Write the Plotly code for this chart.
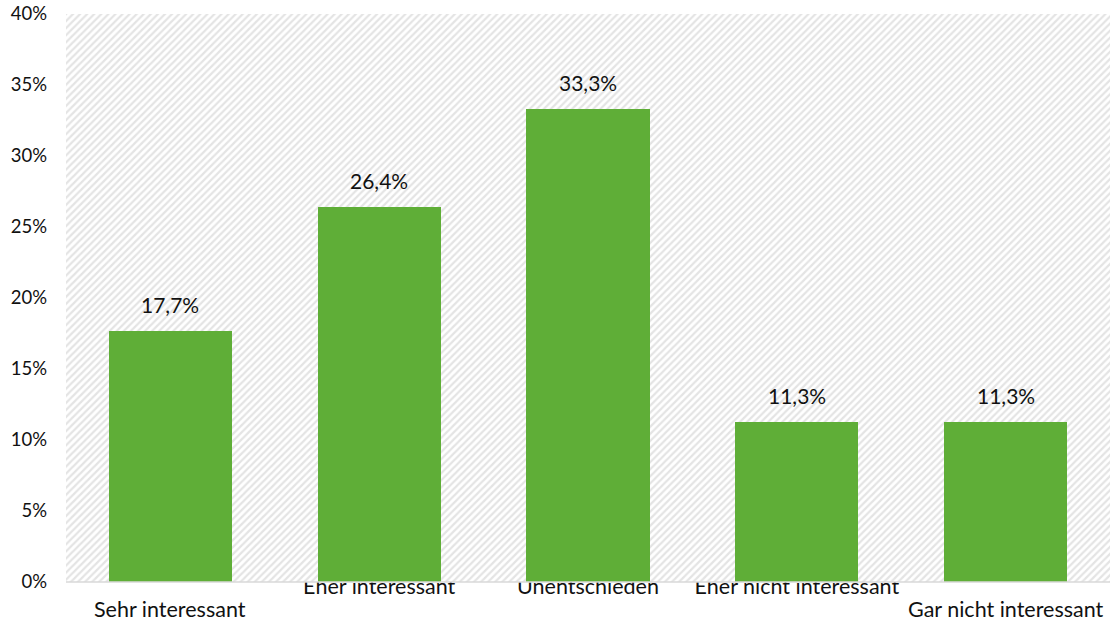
import plotly.graph_objects as go

# Survey answers and their shares (percent)
categories = ["Sehr interessant", "Eher interessant", "Unentschieden",
              "Eher nicht interessant", "Gar nicht interessant"]
shares = [17.7, 26.4, 33.3, 11.3, 11.3]
y_ticks = [0, 5, 10, 15, 20, 25, 30, 35, 40]

FONT = "Lato"
BAR_GREEN = "#5fae37"
TEXT = "#111111"

positions = list(range(len(categories)))
y_max = y_ticks[-1]
# Outer labels sit one row lower so the long texts do not collide
low_row = [0, len(categories) - 1]
high_row = [i for i in positions if i not in low_row]

fig = go.Figure()

# Hatched plot background, drawn as one wide bar underneath the data
fig.add_trace(go.Bar(
    x=[(len(categories) - 1) / 2], y=[y_max], width=[len(categories)],
    marker=dict(color="white", line=dict(width=0),
                pattern=dict(shape="/", fgcolor="#c9c9c9", bgcolor="white",
                             size=5, solidity=0.45)),
    hoverinfo="skip", showlegend=False,
))

# Data bars
fig.add_trace(go.Bar(
    x=positions, y=shares, width=0.59,
    marker=dict(color=BAR_GREEN, line=dict(width=0)),
    showlegend=False,
))

# Value labels above the bars
for i, v in enumerate(shares):
    fig.add_annotation(
        x=i, y=v, xref="x", yref="y", text=f"{v:.1f}".replace(".", ",") + "%",
        showarrow=False, yanchor="bottom", yshift=12,
        font=dict(family=FONT, size=21, color=TEXT),
    )

# Lower row of category labels
for i in low_row:
    fig.add_annotation(
        x=i, y=0, xref="x", yref="paper", text=categories[i],
        showarrow=False, yanchor="top", yshift=-12,
        font=dict(family=FONT, size=21.5, color=TEXT),
    )

# Baseline of the category axis
fig.add_shape(type="line", xref="paper", yref="paper", x0=0, x1=1, y0=0, y1=0,
              line=dict(color="#d9d9d9", width=1.5), layer="above")

fig.update_layout(
    width=1110, height=624,
    margin=dict(l=66, r=0, t=14, b=42),
    paper_bgcolor="white", plot_bgcolor="white",
    barmode="overlay", bargap=0,
    font=dict(family=FONT, color=TEXT),
    xaxis=dict(
        range=[-0.5, len(categories) - 0.5],
        tickmode="array",
        tickvals=high_row,
        ticktext=[categories[i] for i in high_row],
        tickfont=dict(family=FONT, size=21.5, color=TEXT),
        ticks="", showgrid=False, zeroline=False, showline=False,
        layer="below traces", ticklabelstandoff=-11,
    ),
    yaxis=dict(
        range=[0, y_max], tickmode="array", tickvals=y_ticks,
        ticktext=[f"{t}%" for t in y_ticks],
        tickfont=dict(family=FONT, size=18.5, color=TEXT),
        ticks="", showgrid=False, zeroline=False, showline=False,
        ticklabelstandoff=18,
    ),
)

fig.write_html("out.html")
